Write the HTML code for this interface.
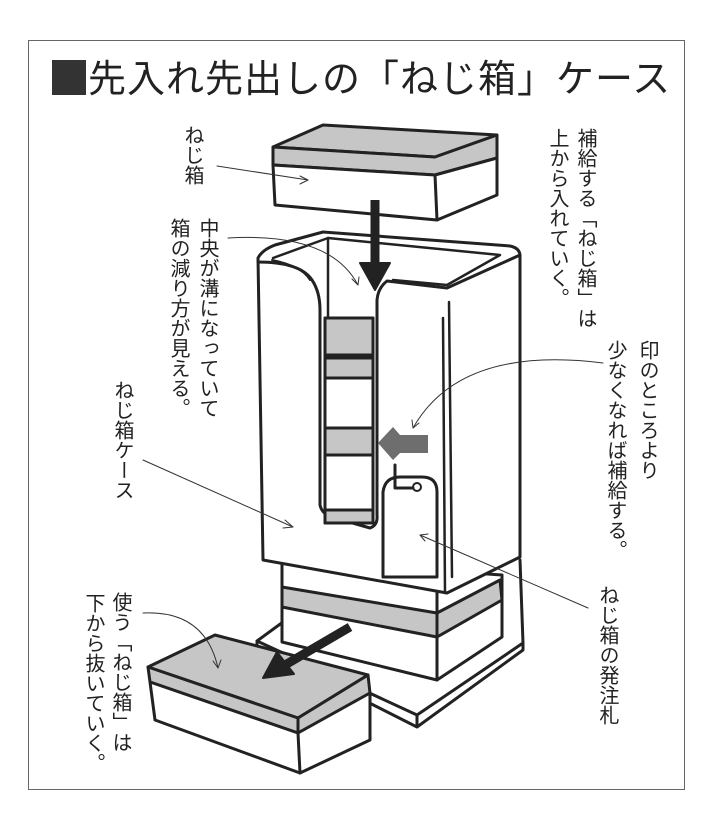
<!DOCTYPE html>
<html><head><meta charset="utf-8"><style>
body{margin:0;background:#fff;width:712px;height:814px;position:relative;overflow:hidden;font-family:"Liberation Sans","Noto Sans CJK JP",sans-serif;color:#222}
.frame{position:absolute;left:28px;top:40px;width:655px;height:748px;border:1.5px solid #666}
.title{position:absolute;left:52px;top:54px;font-size:38px;line-height:52px;white-space:nowrap;letter-spacing:1px}
.sq{display:inline-block;width:34px;height:35px;background:#333;vertical-align:-3px;margin-right:2px}
.v{position:absolute;writing-mode:vertical-rl;font-size:20px;line-height:22px;width:22px;white-space:nowrap}
svg{position:absolute;left:0;top:0}
</style></head><body>
<div class="frame"></div>
<div class="title"><span class="sq"></span>先入れ先出しの「ねじ箱」ケース</div>
<svg width="712" height="814" viewBox="0 0 712 814" fill="none" stroke="#222" stroke-width="3" stroke-linejoin="round" stroke-linecap="round">
<!-- top box -->
<path d="M273,147 L323,125 L497,135 L435,157 Z" fill="#c6c6c6"/>
<path d="M273,147 L435,157 L497,135 L497,158 L435,175 L273,165 Z" fill="#c6c6c6"/>
<path d="M273,165 L275,205 L437,220 L497,195 L497,158 L435,175 Z" fill="#fff"/>
<path d="M435,175 L437,220"/>
<!-- platform -->
<path d="M257,641 L283,622 L520,600 L523,643 L417,715 Z" fill="#fff" stroke="none"/>
<path d="M257,641 L283,622 M257,641 L417,715 L523,643 M257,641 L257,646 L417,727 L523,650 L523,643 M417,715 L417,727 M520,560 L523,643"/>
<!-- stand block -->
<path d="M282,560 L282,642 L437,680 L502,637 L502,575 L282,560 Z" fill="#fff"/>
<path d="M282,587 L437,613 L500,580 L502,600 L437,637 L282,607 Z" fill="#c6c6c6"/>
<path d="M437,593 L437,680"/>
<!-- case -->
<path d="M258,258 Q262,250 275,245 L323,232 L510,246 Q520,248 520,256 L520,557 L447,593 L263,560 Z" fill="#fff"/>
<path d="M273,258 L328,238 L500,255 L447,285 L393,280" stroke-width="2.5"/>
<path d="M328,238 L328,318" stroke-width="2.5"/>
<path d="M258,262 Q300,262 312,280 Q320,292 320,310 L320,505 Q322,515 335,518 L370,528 Q378,525 377,515 L377,300 Q378,288 387,281 L447,288 L520,255"/>
<path d="M272,260 Q302,266 310,280" stroke-width="2"/>
<path d="M325,318 L373,318 L373,523 L325,523 Z" fill="#fff"/>
<path d="M325,318 L373,318 L373,355 L325,355 Z M325,358 L373,358 L373,378 L325,378 Z M325,428 L373,428 L373,455 L325,455 Z M325,510 L373,510 L373,523 L325,523 Z" fill="#c6c6c6"/>
<path d="M443,318 L445,593 M449,302 L452,577" stroke-width="2.5"/>
<!-- down arrow -->
<path d="M375,200 L375,264" stroke-width="9" stroke-linecap="butt"/>
<path d="M360,263 L390,263 L375,290 Z" fill="#222" stroke-width="2"/>
<!-- gray arrow -->
<path d="M428,435 L428,453 L400,453 L393,460 L378,443 L393,427 L400,435 Z" fill="#6e6e6e" stroke="none"/>
<!-- tag -->
<path d="M383,577 L383,492 Q385,477 400,477 L422,477 Q437,477 437,492 L437,577 Z" fill="#fff"/>
<path d="M395,465 L395,488 L413,488" stroke-width="3"/>
<circle cx="417" cy="487" r="4" stroke-width="2"/>
<!-- bottom box -->
<path d="M148,667 L215,635 L368,675 L298,718 Z" fill="#c6c6c6"/>
<path d="M148,667 L298,718 L368,675 L370,693 L298,733 L150,682 Z" fill="#c6c6c6"/>
<path d="M150,682 L155,720 L300,773 L370,740 L370,693 L298,733 Z" fill="#fff"/>
<path d="M298,718 L298,733 L300,773"/>
<!-- diagonal arrow -->
<path d="M350,627 L285,665" stroke-width="9" stroke-linecap="butt"/>
<path d="M263,678 L277,652 L294,674 Z" fill="#222" stroke-width="2"/>
<!-- leaders -->
<g stroke-width="1" stroke="#333">
<path d="M217,166 L308,180"/><path d="M300,176 L308,180 L300,184"/>
<path d="M228,238 Q330,232 358,285"/><path d="M352,279 L358,285 L359,277"/>
<path d="M143,460 L293,527"/><path d="M285,520 L293,527 L283,528"/>
<path d="M603,363 Q460,345 413,428"/><path d="M412,420 L413,428 L419,423"/>
<path d="M588,608 L420,535"/><path d="M428,534 L420,535 L425,541"/>
<path d="M143,613 Q205,610 218,668"/><path d="M213,661 L218,668 L221,660"/>
</g>
</svg>
<div class="v" style="left:181px;top:125px">ねじ箱</div>
<div class="v" style="left:574px;top:128px">補給する「ねじ箱」は</div>
<div class="v" style="left:546px;top:128px">上から入れていく。</div>
<div class="v" style="left:196px;top:218px">中央が溝になっていて</div>
<div class="v" style="left:167px;top:218px">箱の減り方が見える。</div>
<div class="v" style="left:111px;top:380px">ねじ箱ケース</div>
<div class="v" style="left:636px;top:340px">印のところより</div>
<div class="v" style="left:604px;top:340px">少なくなれば補給する。</div>
<div class="v" style="left:596px;top:585px">ねじ箱の発注札</div>
<div class="v" style="left:109px;top:592px">使う「ねじ箱」は</div>
<div class="v" style="left:82px;top:593px">下から抜いていく。</div>
</body></html>
